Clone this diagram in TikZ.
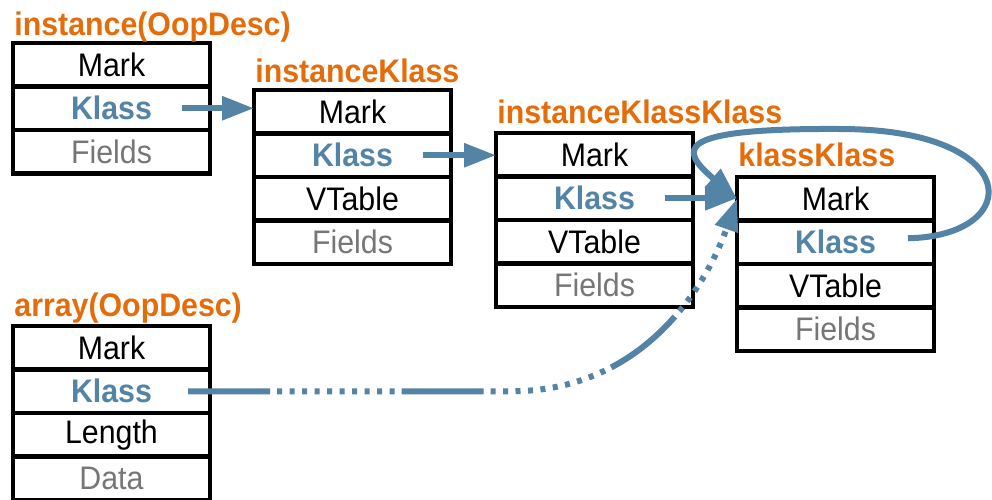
\documentclass[tikz,border=0pt]{standalone}
\usepackage{fontspec}
\setmainfont{Liberation Sans}[FakeStretch=0.93]
\usetikzlibrary{arrows.meta,positioning,calc}
\definecolor{cTitle}{HTML}{E46C0A}
\definecolor{cPtr}  {HTML}{5383A5}
\definecolor{cMuted}{HTML}{767676}

\begin{document}
\begin{tikzpicture}[
  x=0.5pt, y=-0.5pt,
  font=\fontsize{16.3}{19}\selectfont,
  cell/.style={
    draw, line width=2.3pt, inner sep=0pt, outer sep=0pt,
    minimum width=98.5pt, minimum height=21.75pt},
  klass/.style={cell, text=cPtr, font=\fontsize{16.3}{19}\selectfont\bfseries},
  body/.style ={cell, text=cMuted},
  title/.style={anchor=base west, inner sep=0pt, text=cTitle,
    font=\fontsize{16.3}{19}\selectfont\bfseries},
  ptr/.style  ={-{Triangle[length=16pt,width=11.5pt]}, draw=cPtr, line width=3pt},
  ptrd/.style ={ptr, dash pattern=on 41pt off 3.5pt
    on 2.5pt off 3.75pt on 2.5pt off 3.75pt on 2.5pt off 3.75pt
    on 2.5pt off 3.75pt on 2.5pt off 3.75pt on 2.5pt off 3.75pt
    on 2.5pt off 3.75pt on 2.5pt off 3.75pt on 2.5pt off 3.75pt
    on 2.5pt off 3.5pt},
]
\useasboundingbox (0,0) rectangle (992,499);

% ---------------------------------------------------------------- instance
\node[cell, anchor=north west] (i1) at (13,43) {Mark};
\node[klass, below=0pt of i1] (i2) {Klass};
\node[body,  below=0pt of i2] (i3) {Fields};
\node[title] at ($(i1.north west)+(1,-8)$) {instance(OopDesc)};

% ---------------------------------------------------------------- instanceKlass
\node[cell, anchor=north west] (k1) at (254,90) {Mark};
\node[klass, below=0pt of k1] (k2) {Klass};
\node[cell,  below=0pt of k2] (k3) {VTable};
\node[body,  below=0pt of k3] (k4) {Fields};
\node[title] at ($(k1.north west)+(1,-8)$) {instanceKlass};

% ---------------------------------------------------------------- instanceKlassKlass
\node[cell, anchor=north west] (kk1) at (496,133) {Mark};
\node[klass, below=0pt of kk1] (kk2) {Klass};
\node[cell,  below=0pt of kk2] (kk3) {VTable};
\node[body,  below=0pt of kk3] (kk4) {Fields};
\node[title] at ($(kk1.north west)+(1,-10)$) {instanceKlassKlass};

% ---------------------------------------------------------------- klassKlass
\node[cell, anchor=north west] (m1) at (737,177) {Mark};
\node[klass, below=0pt of m1] (m2) {Klass};
\node[cell,  below=0pt of m2] (m3) {VTable};
\node[body,  below=0pt of m3] (m4) {Fields};
\node[title] at ($(m1.north west)+(1,-11)$) {klassKlass};

% ---------------------------------------------------------------- array
\node[cell, anchor=north west] (a1) at (13,326) {Mark};
\node[klass, below=0pt of a1] (a2) {Klass};
\node[cell,  below=0pt of a2] (a3) {Length};
\node[body,  below=0pt of a3] (a4) {Data};
\node[title] at ($(a1.north west)+(1,-10)$) {array(OopDesc)};

% ---------------------------------------------------------------- pointers
\draw[ptr] ([xshift=-14pt]i2.east)  -- (i2.east -| k1.west);
\draw[ptr] ([xshift=-14pt]k2.east)  -- (k2.east -| kk1.west);
\draw[ptr] ([xshift=-14pt]kk2.east) -- (kk2.east -| m1.west);

% klassKlass points at itself
\draw[ptr] ([xshift=-13pt,yshift=2pt]m2.east)
  .. controls (1025,236) and (1025,129) .. (840,129)
  .. controls (670,128) and (680,150) .. (m1.west);

% array klass pointer
\draw[ptrd] ([xshift=-11pt]a2.east) -- ++(322,0)
  .. controls (640,392) and (705,290) .. (m1.west);

\end{tikzpicture}
\end{document}
